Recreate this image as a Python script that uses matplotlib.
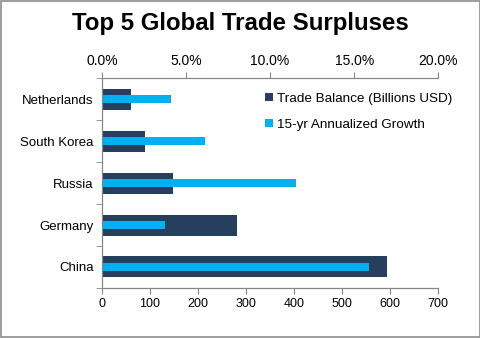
import numpy as np
import matplotlib.pyplot as plt
from matplotlib.patches import Rectangle

plt.rcParams['font.family'] = ['Liberation Sans', 'DejaVu Sans']

# donnees
pays = ['China', 'Germany', 'Russia', 'South Korea', 'Netherlands']
balance = [593, 281, 147, 90, 61]          # milliards USD
croissance = [15.9, 3.73, 11.53, 6.15, 4.09]  # % annualise sur 15 ans

bleu_fonce = '#263F5F'
cyan = '#00B0F0'
gris = '#868686'

fig = plt.figure(figsize=(4.81, 3.38), dpi=100)
fig.patches.append(Rectangle((0.002, 0.003), 0.996, 0.994, transform=fig.transFigure,
                             fill=False, edgecolor='#8c8c8c', linewidth=1.2))
ax = fig.add_axes([0.212, 0.148, 0.699, 0.621])
ax2 = ax.twiny()

y = np.arange(len(pays))
ax.barh(y, balance, height=0.5, color=bleu_fonce, label='Trade Balance (Billions USD)')
ax2.barh(y, croissance, height=0.19, color=cyan, label='15-yr Annualized Growth')

ax.set_xlim(0, 700)
ax.set_xticks(np.arange(0, 701, 100))
ax2.set_xlim(0, 20)
ax2.set_xticks(np.arange(0, 20.1, 5))
ax2.set_xticklabels(['%.1f%%' % v for v in np.arange(0, 20.1, 5)])
ax.set_ylim(-0.5, len(pays) - 0.5)
ax.set_yticks(y)
ax.set_yticklabels(pays)
ax.set_yticks(np.arange(-0.5, len(pays)), minor=True)
ax.tick_params(axis='y', which='major', length=0, pad=6, labelsize=9.5)
ax.tick_params(axis='y', which='minor', length=4, color=gris)
ax.tick_params(axis='x', length=4, color=gris, labelsize=9, pad=3)
ax2.tick_params(axis='x', length=4, color=gris, labelsize=10, pad=3)

for a in (ax, ax2):
    a.spines['right'].set_visible(False)
    for s in ('left', 'top', 'bottom'):
        a.spines[s].set_color(gris)

h1, l1 = ax.get_legend_handles_labels()
h2, l2 = ax2.get_legend_handles_labels()
ax2.legend(h1 + h2, l1 + l2, loc='upper left', bbox_to_anchor=(0.47, 0.955), frameon=False,
           fontsize=9.7, handlelength=0.55, handleheight=0.55, handletextpad=0.3,
           labelspacing=1.05, borderaxespad=0)

fig.text(0.5, 0.93, 'Top 5 Global Trade Surpluses', ha='center', va='center',
         fontsize=17.3, fontweight='bold')

fig.savefig('out.png', dpi=100)
